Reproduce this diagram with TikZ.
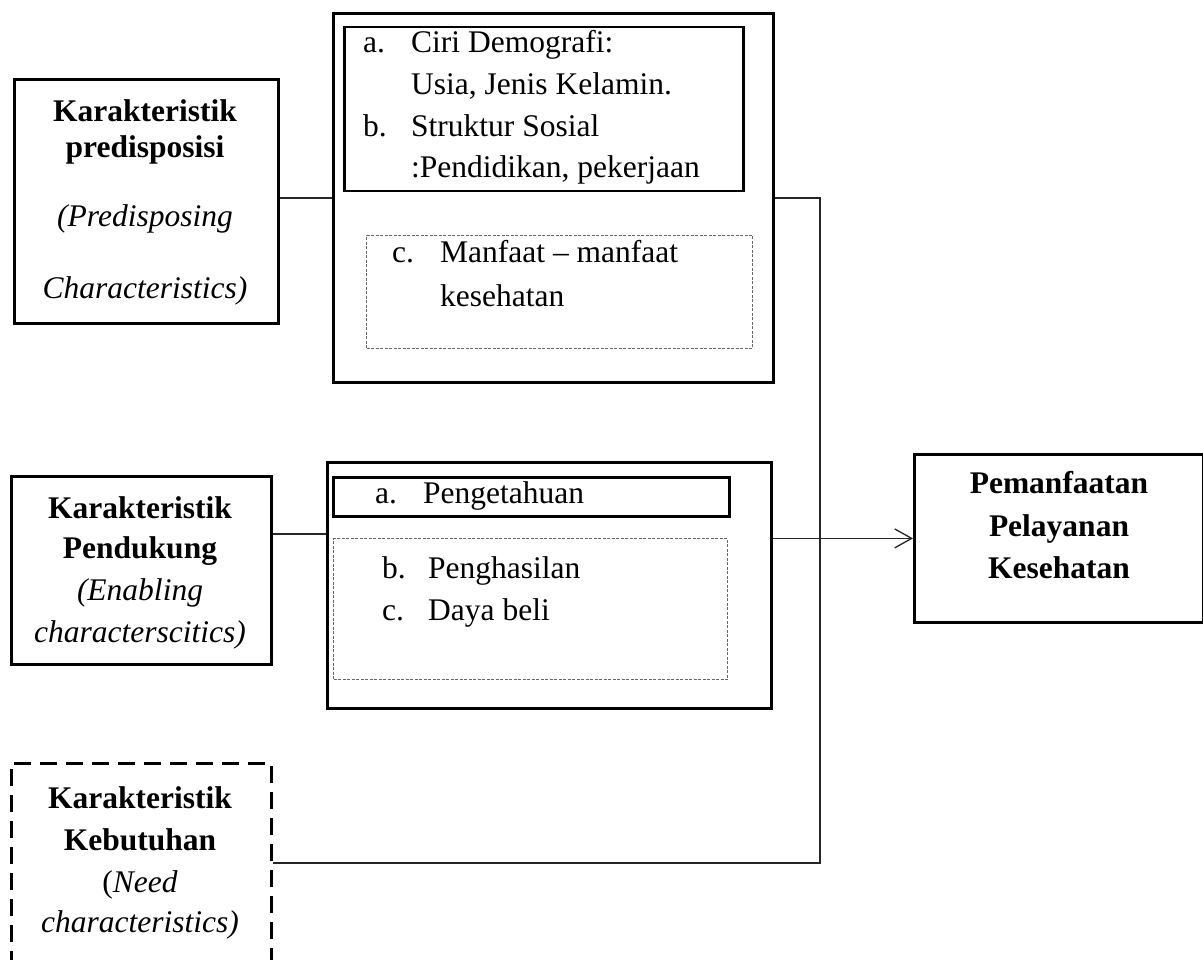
\documentclass[tikz,border=0pt]{standalone}
\usepackage{fontspec}
\setmainfont{Liberation Serif}
\usetikzlibrary{arrows.meta}
\begin{document}
\begin{tikzpicture}[x=1pt,y=-1pt,
  box/.style={draw=black, line width=2.8pt, inner sep=0pt, anchor=north west},
  inbox/.style={draw=black, line width=2.5pt, inner sep=0pt, anchor=north west},
  dotbox/.style={draw=black!60, line width=1pt, dash pattern=on 3pt off 1.5pt, inner sep=0pt, anchor=north west},
  dbox/.style={draw=black, line width=2.8pt, dash pattern=on 17pt off 9pt, inner sep=0pt, anchor=north west},
  txt/.style={inner sep=0pt, anchor=base, font=\fontsize{31.5}{41}\selectfont},
  ltxt/.style={txt, anchor=base west},
  conn/.style={draw=black!85, line width=1.3pt}]
\useasboundingbox (0,0) rectangle (1203,960);
\clip (0,0) rectangle (1203,960);
\fill[white] (0,0) rectangle (1203,960);
% boxes
\node[box, minimum width=264pt, minimum height=244pt] (P) at (13,78) {};
\node[box, minimum width=440pt, minimum height=369pt] (B1) at (332,12) {};
\node[inbox, minimum width=399pt, minimum height=164pt] (B1a) at (343,26) {};
\node[dotbox, minimum width=386pt, minimum height=113pt] (B1c) at (366,235) {};
\node[box, minimum width=260pt, minimum height=188pt] (E) at (10,475) {};
\node[box, minimum width=444pt, minimum height=246pt] (B2) at (326,461) {};
\node[inbox, minimum width=396pt, minimum height=39pt] (B2a) at (332,476) {};
\node[dotbox, minimum width=394pt, minimum height=141pt] (B2b) at (333,538) {};
\node[dbox, minimum width=260pt, minimum height=228pt] (K) at (10,762) {};
\node[box, minimum width=289pt, minimum height=168pt] (O) at (913,453) {};
% texts predisposisi
\node[txt] (P1) at (145,122) {\textbf{Karakteristik}};
\node[txt] (P2) at (145,158) {\textbf{predisposisi}};
\node[txt] (P3) at (145,227) {\textit{(Predisposing}};
\node[txt] (P4) at (145,299) {\textit{Characteristics)}};
% texts enabling
\node[txt] (E1) at (140,518) {\textbf{Karakteristik}};
\node[txt] (E2) at (140,558) {\textbf{Pendukung}};
\node[txt] (E3) at (140,600) {\textit{(Enabling}};
\node[txt] (E4) at (140,642) {\textit{characterscitics)}};
% texts need
\node[txt] (K1) at (140,808) {\textbf{Karakteristik}};
\node[txt] (K2) at (140,850) {\textbf{Kebutuhan}};
\node[txt] (K3) at (140,892) {(\textit{Need}};
\node[txt] (K4) at (140,932) {\textit{characteristics)}};
% texts outcome
\node[txt] (O1) at (1059,493) {\textbf{Pemanfaatan}};
\node[txt] (O2) at (1059,536) {\textbf{Pelayanan}};
\node[txt] (O3) at (1059,578) {\textbf{Kesehatan}};
% list 1
\node[ltxt] (La) at (363,53) {a.};
\node[ltxt] (La1) at (411,53) {Ciri Demografi:};
\node[ltxt] (La2) at (411,95) {Usia, Jenis Kelamin.};
\node[ltxt] (Lb) at (363,137) {b.};
\node[ltxt] (Lb1) at (411,137) {Struktur Sosial};
\node[ltxt] (Lb2) at (411,178) {:Pendidikan, pekerjaan};
\node[ltxt] (Lc) at (392,263) {c.};
\node[ltxt] (Lc1) at (440,263) {Manfaat – manfaat};
\node[ltxt] (Lc2) at (440,306) {kesehatan};
% list 2
\node[ltxt] (Ma) at (375,503) {a.};
\node[ltxt] (Ma1) at (423,503) {Pengetahuan};
\node[ltxt] (Mb) at (382,578) {b.};
\node[ltxt] (Mb1) at (428,578) {Penghasilan};
\node[ltxt] (Mc) at (382,620) {c.};
\node[ltxt] (Mc1) at (428,620) {Daya beli};
% connectors
\coordinate (cp) at (0,198);
\coordinate (ce) at (0,534);
\coordinate (ck) at (0,863);
\coordinate (vx) at (820,0);
\draw[conn] (P.east |- cp) -- (B1.west |- cp);
\draw[conn] (E.east |- ce) -- (B2.west |- ce);
\draw[conn] (B1.east) -- (B1.east -| vx) -- (vx |- ck) -- (K.east |- ck);
\draw[conn, -{Straight Barb[length=17pt, width=19pt, line width=1.3pt]}] (B2.east |- O.west) -- (O.west);
\end{tikzpicture}
\end{document}
